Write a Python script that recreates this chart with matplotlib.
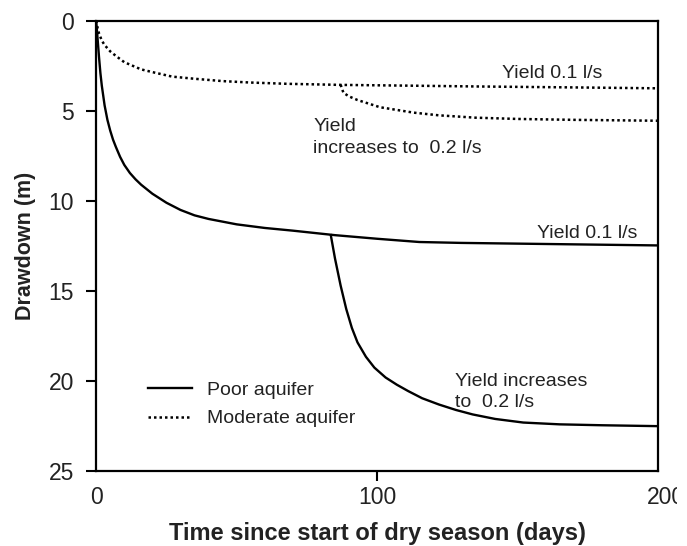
import matplotlib
matplotlib.use("Agg")
import matplotlib.pyplot as plt
from matplotlib.transforms import Bbox, TransformedBbox, ScaledTranslation

plt.rcParams['font.family'] = ['Liberation Sans', 'DejaVu Sans']

# poor aquifer, yield 0.1 l/s all season
poor_days = [0, 0.5, 1, 1.5, 2, 3, 4, 5, 6, 7, 8.5, 10, 12, 14, 16, 18, 20, 25, 30, 35, 40,
             50, 60, 70, 85, 100, 115, 130, 150, 175, 200]
poor_dd = [0, 1.0, 2.0, 2.9, 3.6, 4.7, 5.5, 6.1, 6.6, 7.0, 7.55, 8.0, 8.45, 8.8, 9.1, 9.35,
           9.6, 10.1, 10.5, 10.8, 11.0, 11.3, 11.5, 11.65, 11.9, 12.1, 12.28, 12.33, 12.37,
           12.42, 12.47]

# poor aquifer, yield raised to 0.2 l/s
poor2_days = [83.5, 85, 87, 89, 91, 93, 96, 99, 103, 107, 111, 116, 122, 128, 134, 142,
              152, 165, 180, 200]
poor2_dd = [11.9, 13.2, 14.7, 16.0, 17.05, 17.85, 18.65, 19.25, 19.8, 20.2, 20.55, 20.95,
            21.3, 21.6, 21.85, 22.1, 22.3, 22.4, 22.45, 22.5]

# moderate aquifer, yield 0.1 l/s
mod_days = [0, 0.5, 1, 2, 3, 5, 7, 10, 13, 16, 20, 27, 35, 45, 55, 68, 87, 110, 137, 170, 200]
mod_dd = [0, 0.4, 0.7, 1.1, 1.35, 1.7, 1.95, 2.3, 2.5, 2.7, 2.85, 3.1, 3.22, 3.35, 3.43, 3.5,
          3.56, 3.6, 3.65, 3.7, 3.75]

# moderate aquifer, yield raised to 0.2 l/s
mod2_days = [87, 88, 90, 93, 97, 101, 107, 113, 122, 135, 150, 170, 200]
mod2_dd = [3.55, 4.0, 4.2, 4.4, 4.6, 4.8, 4.95, 5.1, 5.25, 5.38, 5.45, 5.5, 5.55]

dots = (0, (1, 1.2))
txt = '#222222'

fig = plt.figure(figsize=(6.87, 5.46), dpi=100)
ax = fig.add_axes([0.140, 0.137, 0.818, 0.825])

ax.plot(poor_days, poor_dd, color='black', lw=1.7, label='Poor aquifer')
ax.plot(poor2_days, poor2_dd, color='black', lw=1.7)
ax.plot(mod_days, mod_dd, color='black', lw=1.8, ls=dots, label='Moderate aquifer')
ax.plot(mod2_days, mod2_dd, color='black', lw=1.8, ls=dots)

ax.set_xlim(0, 200)
ax.set_ylim(25, 0)
ax.set_xticks([0, 100, 200])
ax.set_yticks([0, 5, 10, 15, 20, 25])
ax.tick_params(axis='y', direction='out', length=7, width=1.5, pad=9,
               labelsize=16.5, labelcolor=txt)
ax.tick_params(axis='x', direction='out', length=7, width=1.5, pad=4,
               labelsize=16.5, labelcolor=txt)
for sp in ax.spines.values():
    sp.set_linewidth(1.6)

xt = ax.xaxis.get_major_ticks()
xt[0].tick1line.set_visible(False)
xt[-1].tick1line.set_visible(False)
lab200 = xt[-1].label1
lab200.set_transform(lab200.get_transform() + ScaledTranslation(8 / 100, 0, fig.dpi_scale_trans))
lab200.set_clip_box(TransformedBbox(Bbox([[0, 0], [677 / 687, 1]]), fig.transFigure))
lab200.set_clip_on(True)

ax.set_ylabel('Drawdown (m)', fontsize=15.5, fontweight='bold', color=txt, labelpad=9)
ax.set_xlabel('Time since start of dry season (days)', fontsize=17, fontweight='bold',
              color=txt, labelpad=9)

ax.text(144.5, 3.17, 'Yield 0.1 l/s', fontsize=14, color=txt, ha='left', va='baseline')
ax.text(77.2, 7.32, 'Yield\nincreases to  0.2 l/s', fontsize=14, color=txt,
        ha='left', va='baseline', linespacing=1.37)
ax.text(157, 12.06, 'Yield 0.1 l/s', fontsize=14, color=txt, ha='left', va='baseline')
ax.text(127.8, 21.43, 'Yield increases\nto  0.2 l/s', fontsize=14, color=txt,
        ha='left', va='baseline', linespacing=1.3)

leg = ax.legend(loc='upper left', bbox_to_anchor=(0.0925, 0.199), frameon=False,
                fontsize=14, handlelength=2.27, handletextpad=0.77, labelspacing=0.55,
                borderpad=0, borderaxespad=0)
for t in leg.get_texts():
    t.set_color(txt)

fig.savefig('out.png', dpi=100)
